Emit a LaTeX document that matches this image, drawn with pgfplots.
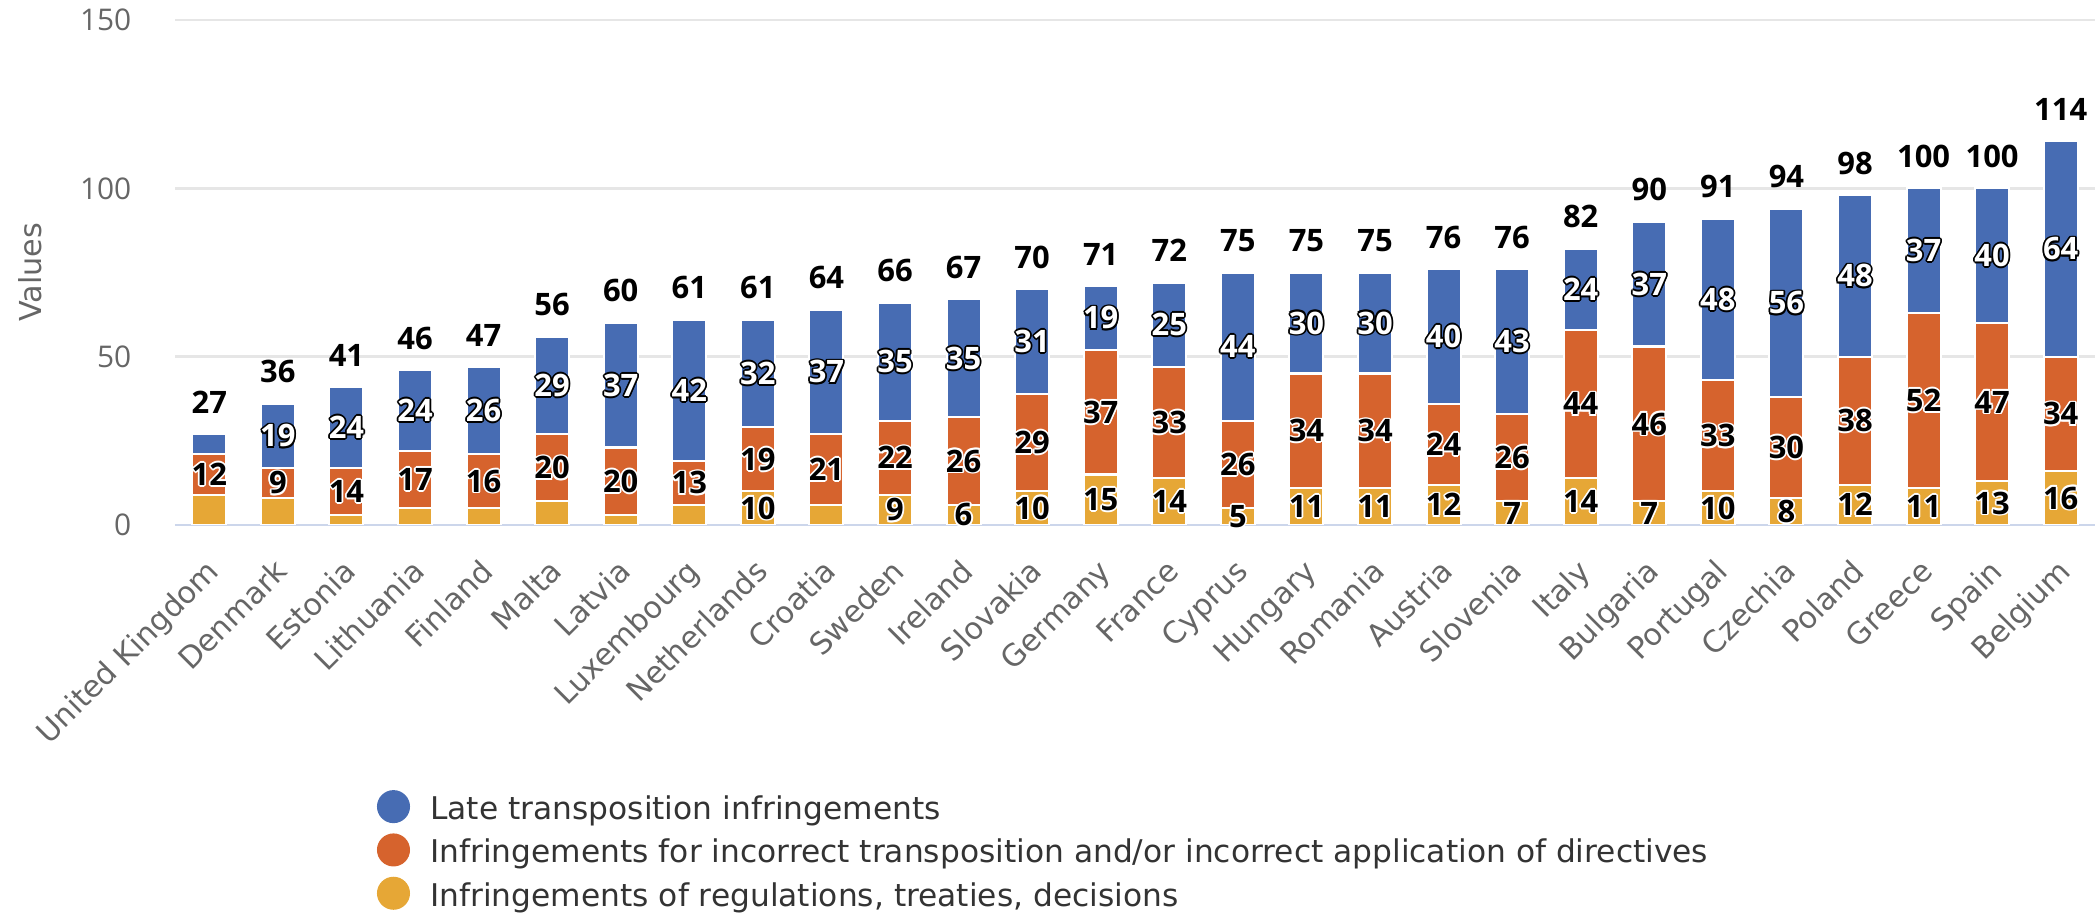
\documentclass[border=0pt]{standalone}
\usepackage{fontspec}
\setmainfont{DejaVu Sans}
\newfontfamily\numfont{Open Sans}
\usepackage{pgfplots}
\pgfplotsset{compat=1.18}
\usepackage{pgfplotstable}

\definecolor{cblue}{HTML}{476CB3}
\definecolor{corange}{HTML}{D6632D}
\definecolor{cyellow}{HTML}{E6A736}
\definecolor{tickgray}{HTML}{666666}
\definecolor{gridgray}{HTML}{E6E6E6}
\definecolor{axisblue}{HTML}{CCD6EB}
\definecolor{legtext}{HTML}{333333}

% text with an outline: #1 text colour, #2 outline colour, #3 text
\newcommand\halo[3]{{\setbox0\hbox{#3}%
  \def\hw{0.5pt}\def\hd{0.35pt}%
  \rlap{\color{#2}\kern\hw\copy0}\rlap{\color{#2}\kern-\hw\copy0}%
  \rlap{\color{#2}\raise\hw\copy0}\rlap{\color{#2}\lower\hw\copy0}%
  \rlap{\color{#2}\kern\hd\raise\hd\copy0}\rlap{\color{#2}\kern-\hd\raise\hd\copy0}%
  \rlap{\color{#2}\kern\hd\lower\hd\copy0}\rlap{\color{#2}\kern-\hd\lower\hd\copy0}%
  {\color{#1}\box0}}}
\def\nolab{-}
\newcommand\seglab[2]{\edef\tmp{\pgfplotspointmeta}\ifx\tmp\nolab\else\halo{#1}{#2}{\tmp}\fi}

% late = late transposition, incorr = incorrect transposition/application, reg = regulations etc.
% lL, lI, lR = data label shown in the segment (- = hidden)
\pgfplotstableread{
idx late incorr reg lL lI lR
0  6  12 9  -  12 -
1  19 9  8  19 9  -
2  24 14 3  24 14 -
3  24 17 5  24 17 -
4  26 16 5  26 16 -
5  29 20 7  29 20 -
6  37 20 3  37 20 -
7  42 13 6  42 13 -
8  32 19 10 32 19 10
9  37 21 6  37 21 -
10 35 22 9  35 22 9
11 35 26 6  35 26 6
12 31 29 10 31 29 10
13 19 37 15 19 37 15
14 25 33 14 25 33 14
15 44 26 5  44 26 5
16 30 34 11 30 34 11
17 30 34 11 30 34 11
18 40 24 12 40 24 12
19 43 26 7  43 26 7
20 24 44 14 24 44 14
21 37 46 7  37 46 7
22 48 33 10 48 33 10
23 56 30 8  56 30 8
24 48 38 12 48 38 12
25 37 52 11 37 52 11
26 40 47 13 40 47 13
27 64 34 16 64 34 16
}\datatable

\pgfplotsset{
  frame/.style={
    at={(1.75cm,3.88cm)}, anchor=south west,
    width=19.2cm, height=5.05cm, scale only axis,
    xmin=-0.5, xmax=27.5, ymin=0, ymax=150,
    /pgf/number format/assume math mode=true,
  },
}

\begin{document}
\begin{tikzpicture}
\useasboundingbox (0,0) rectangle (21cm,9.13cm);
\begin{axis}[
  frame,
  ybar stacked, bar width=0.34cm,
  ytick={0,50,100,150},
  xtick={0,...,27},
  xticklabels={United Kingdom,Denmark,Estonia,Lithuania,Finland,Malta,Latvia,Luxembourg,Netherlands,Croatia,Sweden,Ireland,Slovakia,Germany,France,Cyprus,Hungary,Romania,Austria,Slovenia,Italy,Bulgaria,Portugal,Czechia,Poland,Greece,Spain,Belgium},
  major tick length=0pt,
  ymajorgrids, major grid style={gridgray, line width=0.7pt},
  axis x line*=bottom, axis y line*=left,
  x axis line style={axisblue, line width=0.8pt, -},
  y axis line style={draw=none},
  xticklabel style={font=\fontsize{8.6}{10}\selectfont, text=tickgray, inner sep=0pt,
    xshift=0.12cm, yshift=-0.48cm, rotate=45, anchor=base east},
  yticklabel style={font=\numfont\fontsize{8.5}{10}\selectfont, text=tickgray, inner sep=0pt,
    xshift=-0.43cm, anchor=east},
  ylabel={Values},
  every axis y label/.style={at={(axis description cs:-0.0755,0.5)}, rotate=90, anchor=center,
    font=\fontsize{8.6}{10}\selectfont, text=tickgray},
  every axis plot/.append style={draw=white, line width=0.6pt},
]
\addplot[fill=cyellow] table[x=idx, y=reg]{\datatable};
\addplot[fill=corange] table[x=idx, y=incorr]{\datatable};
\addplot[fill=cblue] table[x=idx, y=late]{\datatable};
\end{axis}

\begin{axis}[
  frame,
  hide axis, clip=false,
  every node near coord/.style={anchor=center, inner sep=0pt,
    font=\numfont\bfseries\fontsize{8.8}{10}\selectfont},
  legend style={at={(axis description cs:0.1052,-0.525)}, anchor=north west,
    draw=none, fill=none, inner sep=0pt, row sep=0.075cm, column sep=0.21cm,
    font=\fontsize{8.9}{10}\selectfont,
    nodes={inner sep=0pt, text height=0.25cm, text depth=0.07cm, text=legtext}},
  legend cell align=left,
  legend image post style={yshift=0.04cm},
]
\addplot[draw=none, forget plot, point meta=explicit symbolic,
  nodes near coords={\seglab{black}{white}}]
  table[x=idx, y expr=\thisrow{reg}/2, meta=lR]{\datatable};
\addplot[draw=none, forget plot, point meta=explicit symbolic,
  nodes near coords={\seglab{black}{white}}]
  table[x=idx, y expr=\thisrow{reg}+\thisrow{incorr}/2, meta=lI]{\datatable};
\addplot[draw=none, forget plot, point meta=explicit symbolic,
  nodes near coords={\seglab{white}{black}}]
  table[x=idx, y expr=\thisrow{reg}+\thisrow{incorr}+\thisrow{late}/2, meta=lL]{\datatable};
% stack totals
\addplot[draw=none, forget plot, point meta=y,
  nodes near coords={\pgfmathprintnumber[fixed,precision=0]{\pgfplotspointmeta}},
  every node near coord/.append style={anchor=south, yshift=0.2cm}]
  table[x=idx, y expr=\thisrow{reg}+\thisrow{incorr}+\thisrow{late}]{\datatable};
\addlegendimage{only marks, mark=*, mark size=4.5pt, cblue}
\addlegendentry{Late transposition infringements}
\addlegendimage{only marks, mark=*, mark size=4.5pt, corange}
\addlegendentry{Infringements for incorrect transposition and/or incorrect application of directives}
\addlegendimage{only marks, mark=*, mark size=4.5pt, cyellow}
\addlegendentry{Infringements of regulations, treaties, decisions}
\end{axis}
\end{tikzpicture}
\end{document}
